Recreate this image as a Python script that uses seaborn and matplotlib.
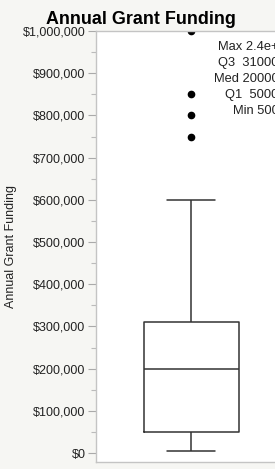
import pandas as pd
import matplotlib
matplotlib.use("Agg")
import matplotlib.pyplot as plt
import matplotlib.ticker as mticker
import seaborn as sns

# sorted grant amounts (25 grants) -> Q1 50000, Med 200000, Q3 310000
funding = [5000, 10000, 20000, 25000, 30000, 40000, 50000, 75000, 100000,
           120000, 150000, 175000, 200000, 220000, 250000, 250000, 275000,
           300000, 310000, 600000, 750000, 800000, 850000, 1000000, 2400000]
stat_labels = ["Max 2.4e+6", "Q3  310000", "Med 200000", "Q1  50000", "Min 5000"]
y_ticks = [0, 100000, 200000, 300000, 400000, 500000, 600000, 700000, 800000, 900000, 1000000]

df = pd.DataFrame({"Annual Grant Funding": funding})

sns.set_style("white")
plt.rcParams["font.family"] = ["Liberation Sans", "DejaVu Sans"]

bg = "#f6f6f3"
fig = plt.figure(figsize=(2.75, 4.69), dpi=100, facecolor=bg)
ax = fig.add_axes([96 / 275, 7 / 469, 190 / 275, 431 / 469])
ax.set_facecolor("white")

line = dict(color="#333333", linewidth=1.1)
sns.boxplot(data=df, y="Annual Grant Funding", width=0.5, ax=ax,
            fill=False, color="#333333", linewidth=1.1,
            boxprops=line, whiskerprops=line, capprops=line, medianprops=line,
            flierprops=dict(marker="o", markersize=4.5, markerfacecolor="black",
                            markeredgecolor="black"))

ax.set_ylim(-21300, 1000000)
ax.set_xlim(-0.5, 0.5)
ax.set_yticks(y_ticks)
ax.yaxis.set_minor_locator(mticker.MultipleLocator(50000))
ax.yaxis.set_major_formatter(mticker.FuncFormatter(lambda v, p: f"${v:,.0f}"))
ax.tick_params(axis="y", which="major", length=5.5, width=0.8, color="#aaaaaa",
               labelsize=9.0, labelcolor="#222222", pad=2, left=True)
ax.tick_params(axis="y", which="minor", length=3.5, width=0.8, color="#bbbbbb", left=True)
ax.set_xticks([])
ax.set_xlabel("")
ax.set_ylabel("Annual Grant Funding", fontsize=9, color="#222222")
ax.yaxis.set_label_coords(-79 / 190, 0.5)

for s in ax.spines.values():
    s.set_color("#c4c4c4")
    s.set_linewidth(1.0)

fig.text(141 / 275, 1 - 19 / 469, "Annual Grant Funding", ha="center", va="center",
         fontsize=12.9, fontweight="bold", color="black")

for i, lab in enumerate(stat_labels):
    fig.text(286 / 275, 1 - (47 + i * 16) / 469, lab, ha="right", va="center",
             fontsize=9.3, color="#222222")

fig.savefig("out.png", dpi=100, facecolor=bg)
